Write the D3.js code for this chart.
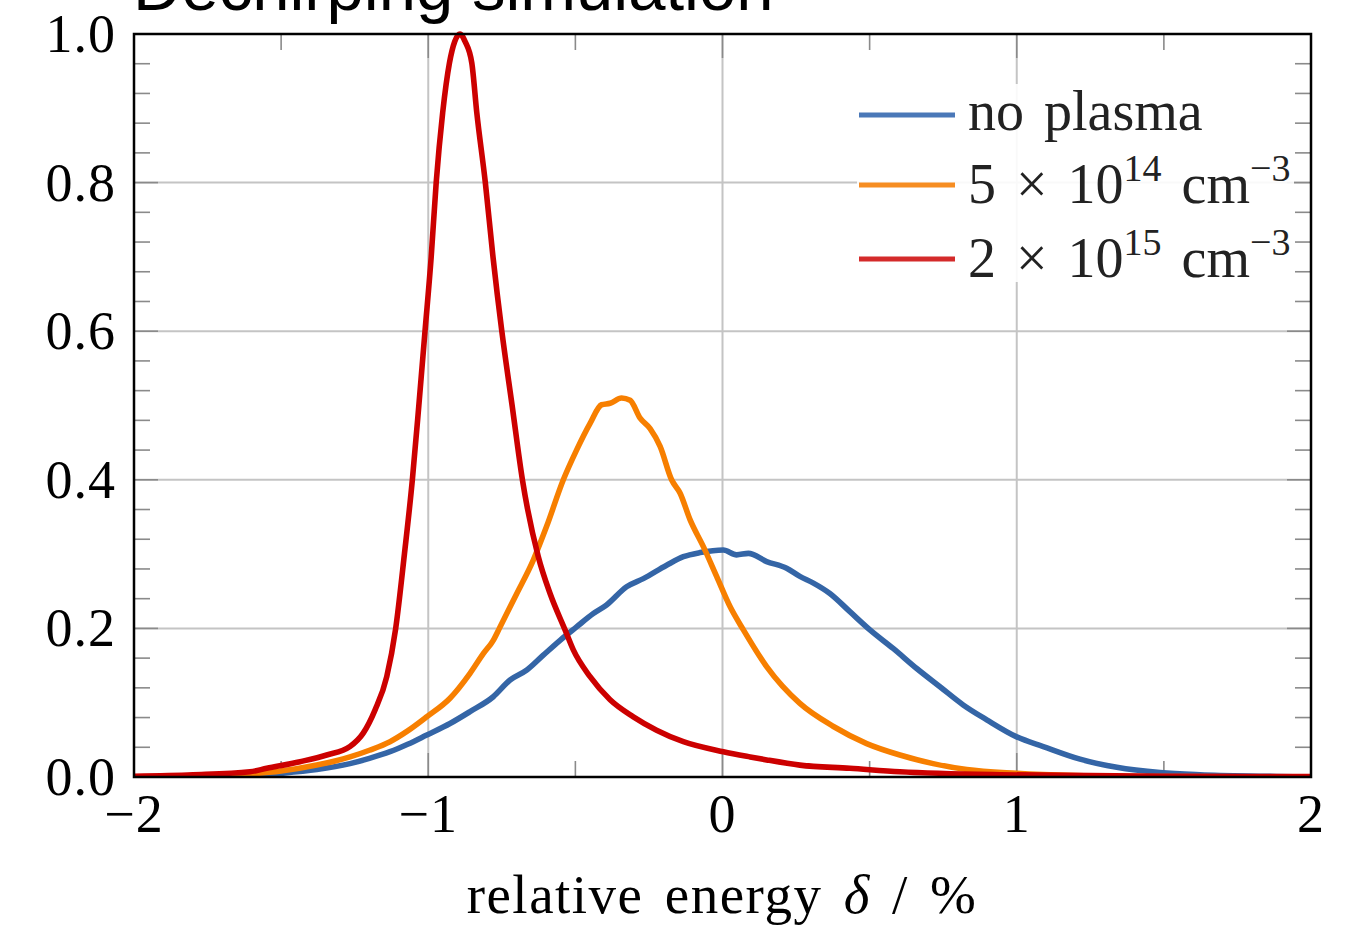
<!DOCTYPE html>
<html>
<head>
<meta charset="utf-8">
<script src="https://cdn.jsdelivr.net/npm/d3@7"></script>
<style>
  html, body { margin: 0; padding: 0; background: #fff; }
  svg { display: block; }
  .tick-label { font-family: "Liberation Serif", "DejaVu Serif", serif; font-size: 54px; fill: #000; letter-spacing: 1px; }
  .legend-label { font-family: "Liberation Serif", "DejaVu Serif", serif; font-size: 56px; fill: #222; word-spacing: 6px; }
</style>
</head>
<body>
<svg id="chart" width="1346" height="925"></svg>
<script>
// --- data ---
const xTicks = [-2, -1, 0, 1, 2];
const yTicks = [0, 0.2, 0.4, 0.6, 0.8, 1.0];

const deltaNoPlasma = [-2.0, -1.8, -1.606, -1.5, -1.379, -1.266, -1.2, -1.13, -1.07, -1.005, -0.926, -0.858, -0.779, -0.722, -0.665, -0.609, -0.552, -0.496, -0.439, -0.394, -0.326, -0.269, -0.19, -0.133, -0.076, 0.003, 0.048, 0.088, 0.15, 0.218, 0.263, 0.309, 0.365, 0.433, 0.501, 0.58, 0.66, 0.739, 0.818, 0.898, 1.0, 1.09, 1.215, 1.34, 1.487, 1.623, 1.85, 2.0];
const countNoPlasma = [0, 0.001, 0.002, 0.005, 0.010, 0.018, 0.025, 0.034, 0.044, 0.0565, 0.072, 0.088, 0.108, 0.1305, 0.144, 0.164, 0.184, 0.202, 0.220, 0.2315, 0.256, 0.267, 0.285, 0.2965, 0.302, 0.3055, 0.299, 0.301, 0.290, 0.281, 0.270, 0.261, 0.247, 0.2225, 0.198, 0.173, 0.146, 0.1215, 0.097, 0.077, 0.054, 0.041, 0.024, 0.013, 0.006, 0.003, 0.001, 0];

const deltaLow = [-2.0, -1.8, -1.606, -1.5, -1.379, -1.266, -1.2, -1.13, -1.07, -1.005, -0.926, -0.858, -0.813, -0.779, -0.756, -0.699, -0.643, -0.598, -0.541, -0.496, -0.45, -0.411, -0.382, -0.343, -0.314, -0.28, -0.246, -0.212, -0.173, -0.144, -0.11, -0.065, -0.02, 0.026, 0.071, 0.15, 0.263, 0.377, 0.49, 0.603, 0.716, 0.83, 1.0, 1.2, 1.5, 2.0];
const countLow = [0, 0.001, 0.004, 0.008, 0.016, 0.027, 0.036, 0.0475, 0.062, 0.081, 0.106, 0.1395, 0.166, 0.184, 0.202, 0.247, 0.292, 0.337, 0.400, 0.440, 0.476, 0.501, 0.503, 0.510, 0.507, 0.483, 0.469, 0.445, 0.400, 0.382, 0.346, 0.310, 0.270, 0.229, 0.198, 0.1485, 0.099, 0.068, 0.045, 0.0296, 0.018, 0.010, 0.005, 0.002, 0.0005, 0];

const deltaHigh = [-2.0, -1.8, -1.606, -1.549, -1.436, -1.345, -1.266, -1.221, -1.181, -1.141, -1.111, -1.081, -1.054, -1.032, -1.011, -0.99, -0.973, -0.951, -0.928, -0.91, -0.892, -0.875, -0.852, -0.835, -0.806, -0.78, -0.75, -0.715, -0.68, -0.626, -0.586, -0.535, -0.507, -0.45, -0.382, -0.303, -0.224, -0.133, 0.003, 0.094, 0.15, 0.263, 0.433, 0.603, 0.943, 1.5, 2.0];
const countHigh = [0.001, 0.003, 0.007, 0.0117, 0.0206, 0.0296, 0.041, 0.059, 0.090, 0.135, 0.199, 0.300, 0.400, 0.50, 0.600, 0.70, 0.800, 0.894, 0.961, 0.99, 1.0, 0.99, 0.961, 0.894, 0.800, 0.70, 0.600, 0.50, 0.400, 0.2965, 0.247, 0.198, 0.171, 0.135, 0.104, 0.081, 0.063, 0.0475, 0.034, 0.027, 0.023, 0.016, 0.0117, 0.007, 0.003, 0.001, 0.0005];

const seriesNames = ["no plasma", "5e14", "2e15"];
const lineColors = ["#3465a6", "#f77f00", "#cc0000"];
const legendColors = ["#4a78b8", "#f68d22", "#d42a2a"];

const svg = d3.select("#chart");
const margin = { left: 134, right: 1311, top: 34, bottom: 777 };

const x = d3.scaleLinear().domain([-2, 2]).range([margin.left, margin.right]);
const y = d3.scaleLinear().domain([0, 1]).range([margin.bottom, margin.top]);

// title (cut off at the top like the reference)
svg.append("text")
    .attr("x", 133)
    .attr("y", 10)
    .style("font-family", "'Liberation Sans', Arial, sans-serif")
    .style("font-size", "67px")
    .text("Dechirping simulation");

// grid
const grid = svg.append("g");
grid.selectAll(".gx").data(xTicks.slice(1, -1)).join("line")
    .attr("x1", d => x(d)).attr("x2", d => x(d))
    .attr("y1", margin.top).attr("y2", margin.bottom)
    .attr("stroke", "#c4c4c4").attr("stroke-width", 2);
grid.selectAll(".gy").data(yTicks.slice(1, -1)).join("line")
    .attr("y1", d => y(d)).attr("y2", d => y(d))
    .attr("x1", margin.left).attr("x2", margin.right)
    .attr("stroke", "#c4c4c4").attr("stroke-width", 2);

// ticks (inward, on all four sides)
const tickG = svg.append("g").attr("stroke", "#8a8a8a").attr("stroke-width", 1.6);
const xMinor = d3.range(-1.5, 2, 1);
const yMinor = d3.range(0, 1.0001, 0.04).filter(v => Math.abs(v * 5 - Math.round(v * 5)) > 1e-6);

function xTickMarks(values, len) {
    values.forEach(v => {
        tickG.append("line").attr("x1", x(v)).attr("x2", x(v)).attr("y1", margin.bottom).attr("y2", margin.bottom - len);
        tickG.append("line").attr("x1", x(v)).attr("x2", x(v)).attr("y1", margin.top).attr("y2", margin.top + len);
    });
}
function yTickMarks(values, len) {
    values.forEach(v => {
        tickG.append("line").attr("y1", y(v)).attr("y2", y(v)).attr("x1", margin.left).attr("x2", margin.left + len);
        tickG.append("line").attr("y1", y(v)).attr("y2", y(v)).attr("x1", margin.right).attr("x2", margin.right - len);
    });
}
xTickMarks(xTicks.slice(1, -1), 24);
xTickMarks(xMinor, 16);
yTickMarks(yTicks.slice(1, -1), 24);
yTickMarks(yMinor, 16);

// curves
svg.append("clipPath").attr("id", "plot-clip")
    .append("rect")
    .attr("x", margin.left).attr("y", margin.top - 4)
    .attr("width", margin.right - margin.left)
    .attr("height", margin.bottom - margin.top + 4);

const line = d3.line()
    .x(d => x(d[0]))
    .y(d => y(d[1]))
    .curve(d3.curveMonotoneX);

const seriesData = [
    d3.zip(deltaNoPlasma, countNoPlasma),
    d3.zip(deltaLow, countLow),
    d3.zip(deltaHigh, countHigh)
];

svg.append("g").attr("clip-path", "url(#plot-clip)")
    .selectAll("path")
    .data(seriesData)
    .join("path")
    .attr("d", line)
    .attr("fill", "none")
    .attr("stroke", (d, i) => lineColors[i])
    .attr("stroke-width", 5.6)
    .attr("stroke-linejoin", "round");

// frame
svg.append("rect")
    .attr("x", margin.left).attr("y", margin.top)
    .attr("width", margin.right - margin.left)
    .attr("height", margin.bottom - margin.top)
    .attr("fill", "none")
    .attr("stroke", "#000")
    .attr("stroke-width", 2.5);

// tick labels
svg.append("g").selectAll("text").data(xTicks).join("text")
    .attr("class", "tick-label")
    .attr("x", d => x(d))
    .attr("y", 832)
    .attr("text-anchor", "middle")
    .text(d => d < 0 ? "\u2212" + Math.abs(d) : d);

svg.append("g").selectAll("text").data(yTicks).join("text")
    .attr("class", "tick-label")
    .attr("x", 116)
    .attr("y", d => y(d) + 18)
    .attr("text-anchor", "end")
    .text(d => d.toFixed(1));

// x axis label
const xLabel = svg.append("text")
    .attr("class", "tick-label")
    .attr("x", 722)
    .attr("y", 913)
    .attr("text-anchor", "middle")
    .style("font-size", "55px")
    .style("letter-spacing", "1.5px")
    .style("word-spacing", "6px");
xLabel.append("tspan").text("relative energy ");
xLabel.append("tspan").style("font-style", "italic").text("\u03B4");
xLabel.append("tspan").text(" / %");

// legend
const legend = svg.append("g");
legend.append("rect")
    .attr("x", 857).attr("y", 84)
    .attr("width", 437).attr("height", 198)
    .attr("fill", "#fff")
    .attr("opacity", 0.9);

const legendRows = [115, 185, 259];
legendRows.forEach((ly, i) => {
    legend.append("line")
        .attr("x1", 859).attr("x2", 955)
        .attr("y1", ly).attr("y2", ly)
        .attr("stroke", legendColors[i])
        .attr("stroke-width", 5);
});

legend.append("text").attr("class", "legend-label")
    .attr("x", 968).attr("y", 130)
    .text(seriesNames[0]);

function densityLabel(yBase, mantissa, exponent) {
    const t = legend.append("text").attr("class", "legend-label")
        .attr("x", 968).attr("y", yBase);
    t.append("tspan").text(mantissa + " \u00D7 10");
    t.append("tspan").attr("dy", -22).style("font-size", "38px").text(exponent);
    t.append("tspan").attr("dy", 22).text(" cm");
    t.append("tspan").attr("dy", -22).style("font-size", "38px").text("\u22123");
}
densityLabel(203, "5", "14");
densityLabel(277, "2", "15");
</script>
</body>
</html>
